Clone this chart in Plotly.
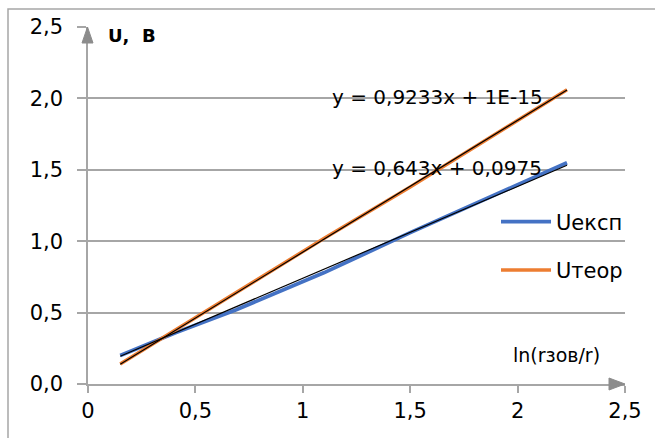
import plotly.graph_objects as go

# Data
x_vals = [0.15, 0.41, 0.69, 1.10, 1.50, 1.80, 2.23]
u_exp = [0.20, 0.36, 0.52, 0.78, 1.06, 1.26, 1.55]
u_teor = [0.14, 0.38, 0.64, 1.02, 1.38, 1.66, 2.06]

trend_exp = (0.643, 0.0975)
trend_teor = (0.9233, 1e-15)
trend_x = [0.15, 2.23]

eq_texts = ["y = 0,9233x + 1E-15", "y = 0,643x + 0,0975"]
x_ticks = [0, 0.5, 1, 1.5, 2, 2.5]
y_ticks = [0, 0.5, 1.0, 1.5, 2.0, 2.5]

FONT = "DejaVu Sans"
GRID = "#A6A6A6"

fig = go.Figure()
fig.add_trace(go.Scatter(x=x_vals, y=u_exp, mode="lines", name="Uексп",
                         line=dict(color="#4472C4", width=3.8), legendgroup="a"))
fig.add_trace(go.Scatter(x=x_vals, y=u_teor, mode="lines", name="Uтеор",
                         line=dict(color="#ED7D31", width=3.5), legendgroup="b"))
for k, b in (trend_exp, trend_teor):
    fig.add_trace(go.Scatter(x=trend_x, y=[k * t + b for t in trend_x], mode="lines",
                             line=dict(color="black", width=1.2), showlegend=False,
                             hoverinfo="skip"))

def px2x(px):
    return (px - 88) / 537

def py2y(py):
    return (384 - py) / 357

shapes = [
    # outer chart border
    dict(type="rect", xref="paper", yref="paper", x0=px2x(8), y0=py2y(460),
         x1=px2x(700), y1=py2y(9), line=dict(color="#A6A6A6", width=1.5)),
    # y arrow head
    dict(type="path", xref="paper", yref="paper",
         path=f"M {px2x(82)},{py2y(43)} L {px2x(93)},{py2y(43)} L {px2x(87.5)},{py2y(27)} Z",
         fillcolor="#8C8C8C", line=dict(color="#8C8C8C", width=1)),
    # x arrow head
    dict(type="path", xref="paper", yref="paper",
         path=f"M {px2x(609)},{py2y(378)} L {px2x(609)},{py2y(390)} L {px2x(625)},{py2y(384)} Z",
         fillcolor="#8C8C8C", line=dict(color="#8C8C8C", width=1)),
]

annotations = [
    dict(text="<b>U,  B</b>", x=px2x(106), y=py2y(35), xref="paper", yref="paper",
         xanchor="left", yanchor="middle", showarrow=False,
         font=dict(family=FONT, size=18, color="black")),
    dict(text="ln(rзов/r)", x=px2x(556), y=py2y(355), xref="paper", yref="paper",
         xanchor="center", yanchor="middle", showarrow=False,
         font=dict(family=FONT, size=19, color="black")),
    dict(text=eq_texts[0], x=px2x(437), y=py2y(97), xref="paper", yref="paper",
         xanchor="center", yanchor="middle", showarrow=False,
         font=dict(family=FONT, size=20, color="black")),
    dict(text=eq_texts[1], x=px2x(437), y=py2y(168), xref="paper", yref="paper",
         xanchor="center", yanchor="middle", showarrow=False,
         font=dict(family=FONT, size=20, color="black")),
]

fig.update_layout(
    width=655, height=438,
    margin=dict(l=88, r=30, t=27, b=54),
    paper_bgcolor="white", plot_bgcolor="white",
    separators=", ",
    font=dict(family=FONT, size=20, color="black"),
    showlegend=True,
    legend=dict(x=px2x(496), y=py2y(246), xanchor="left", yanchor="middle",
                bgcolor="rgba(0,0,0,0)", font=dict(family=FONT, size=21),
                tracegroupgap=18, traceorder="grouped", itemwidth=50),
    shapes=shapes,
    annotations=annotations,
    xaxis=dict(range=[0, 2.5], tickvals=x_ticks, ticktext=["0", "0,5", "1", "1,5", "2", "2,5"],
               showgrid=False, zeroline=False, showline=True, linecolor=GRID, linewidth=1.5,
               ticks="outside", ticklen=7, tickcolor=GRID, tickwidth=1.5,
               tickfont=dict(family=FONT, size=21), fixedrange=True),
    yaxis=dict(range=[0, 2.5], tickvals=y_ticks, tickformat=".1f",
               showgrid=True, gridcolor=GRID, gridwidth=1.5,
               zeroline=False, showline=True, linecolor=GRID, linewidth=1.5,
               ticks="outside", ticklen=9, tickcolor=GRID, tickwidth=1.5,
               ticklabelstandoff=10,
               tickfont=dict(family=FONT, size=21), fixedrange=True),
)

fig.write_html("out.html", config={"displayModeBar": False},
               post_script="document.body.style.margin='0';")
